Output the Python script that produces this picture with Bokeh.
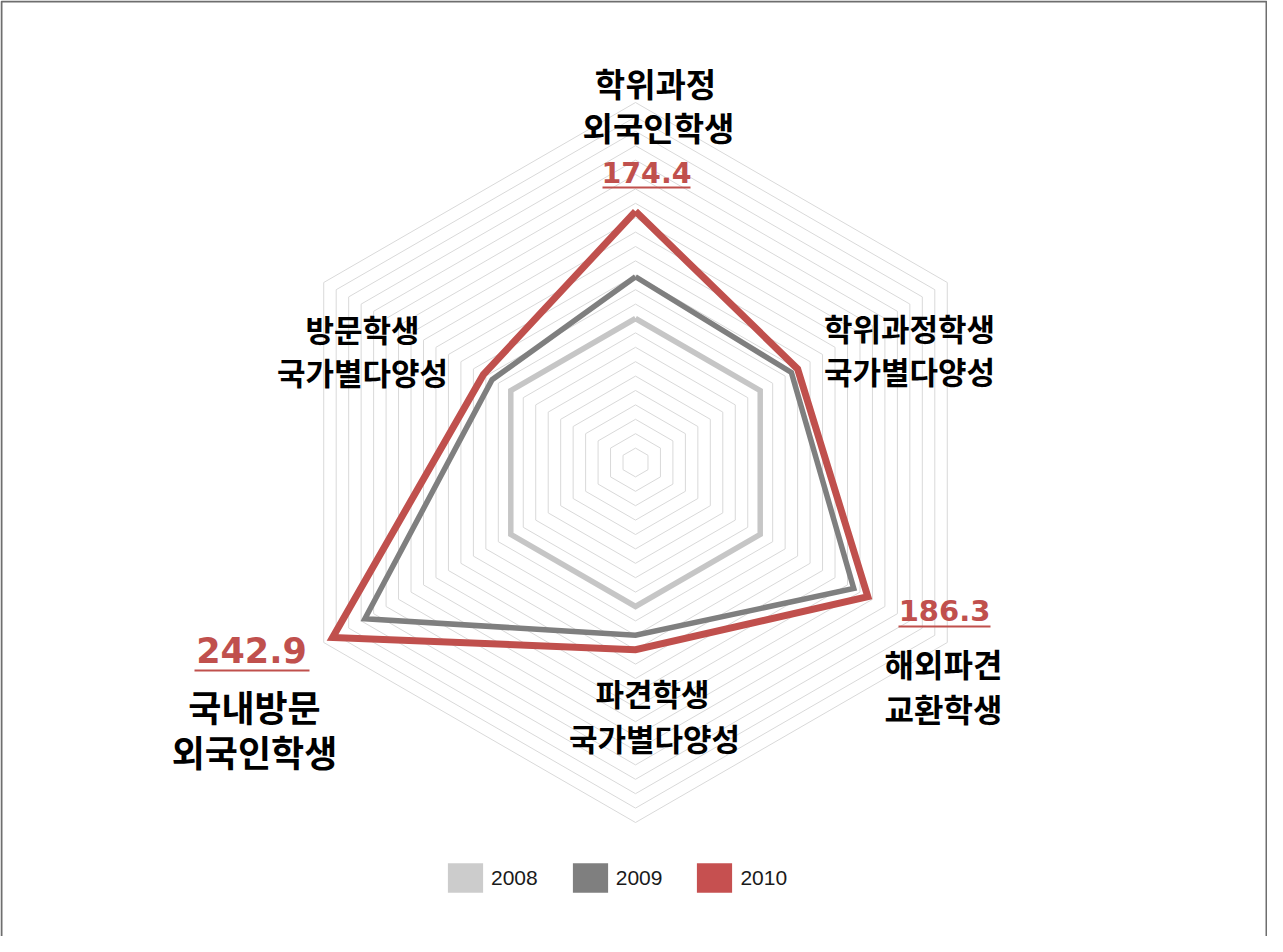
import numpy as np
from bokeh.plotting import figure
from bokeh.models import Range1d, Legend, LegendItem, BoxAnnotation
from bokeh.core.properties import value
from bokeh.embed import file_html
from bokeh.resources import INLINE

# ---------------- data ----------------
categories_line1 = ["학위과정", "학위과정학생", "해외파견", "파견학생", "국내방문", "방문학생"]
categories_line2 = ["외국인학생", "국가별다양성", "교환학생", "국가별다양성", "외국인학생", "국가별다양성"]
years = ["2008", "2009", "2010"]
v2008 = [100, 100, 100, 100, 100, 100]
v2009 = [129, 125, 175, 120, 217, 115]
v2010 = [174.4, 130, 186.3, 130, 242.9, 122]
highlight_idx = [0, 2, 4]          # categories whose 2010 value is printed
grid_levels = list(range(10, 251, 10))

# ---------------- layout / style ----------------
W, H = 1267, 936
CX, CY = 635, 462          # chart centre in canvas px
S = 1.44                   # px per unit
colors = {"2008": "#c6c6c6", "2009": "#7f7f7f", "2010": "#c0504d"}
swatch = {"2008": "#cccccc", "2009": "#7f7f7f", "2010": "#c65050"}
widths = {"2008": 5.5, "2009": 5.5, "2010": 7}
KFONT = value("Noto Sans CJK KR")
NFONT = value("DejaVu Sans")


def P(px, py):
    """page pixel -> data coordinates"""
    return ((px - 8 - CX) / S, (CY - (py - 8)) / S)


p = figure(width=W, height=H, output_backend="svg", toolbar_location=None,
           x_range=Range1d(-CX / S, (W - CX) / S),
           y_range=Range1d(-(H - CY) / S, CY / S),
           min_border=0, outline_line_color=None)
p.axis.visible = False
p.grid.visible = False
p.background_fill_color = "white"
p.border_fill_color = "white"

n = len(categories_line1)
ang = np.deg2rad(90 - 60 * np.arange(n))
cosa, sina = np.cos(ang), np.sin(ang)

# grid rings
gx, gy = [], []
for r in grid_levels:
    gx.append(list(np.append(r * cosa, r * cosa[0])))
    gy.append(list(np.append(r * sina, r * sina[0])))
p.multi_line(gx, gy, line_color="#d9d9d9", line_width=1)

# series
vals = {"2008": v2008, "2009": v2009, "2010": v2010}
for y in years:
    v = np.array(vals[y], dtype=float)
    xs = np.append(v * cosa, v[0] * cosa[0])
    ys = np.append(v * sina, v[0] * sina[0])
    p.line(xs, ys, line_color=colors[y], line_width=widths[y], line_join="miter")

# category labels (page px anchors for each line)
lab_pos = [
    ((663, 90), (666, 134), 33),
    ((917, 335), (917, 378), 31),
    ((951, 670), (951, 715), 32),
    ((660, 700), (662, 745), 31),
    ((262, 713), (262, 758), 36),
    ((370, 336), (370, 379), 31),
]
for i in range(n):
    (a, b, fs) = lab_pos[i]
    x1, y1 = P(*a)
    x2, y2 = P(*b)
    p.text([x1, x2], [y1, y2], text=[categories_line1[i], categories_line2[i]],
           text_font=KFONT, text_font_style="bold", text_font_size=f"{fs}px",
           text_align="center", text_baseline="middle", text_color="black")

# highlighted 2010 values with underline
val_pos = {0: ((654, 180), 195, 610, 698, 28.5),
           2: ((952, 618), 634, 906, 998, 29),
           4: ((259, 657), 678, 202, 317, 35)}
for i in highlight_idx:
    (c, uy, ux0, ux1, fs) = val_pos[i]
    x, yv = P(*c)
    p.text([x], [yv], text=[f"{v2010[i]:.1f}"], text_font=NFONT, text_font_style="bold",
           text_font_size=f"{fs}px", text_align="center", text_baseline="middle",
           text_color="#c0504d")
    xa, ya = P(ux0, uy)
    xb, _ = P(ux1, uy)
    p.segment([xa], [ya], [xb], [ya], line_color="#c0504d", line_width=2)

# frame border (left/top/right)
p.add_layout(BoxAnnotation(left=p.x_range.start + 1 / S, right=p.x_range.end - 1 / S,
                           top=p.y_range.end - 1 / S, bottom=p.y_range.start - 20,
                           fill_alpha=0, line_color="#6e6e6e", line_alpha=1.0, line_width=2))

# legend (zero-area proxy quads only carry the swatch style)
items = []
for y in years:
    r = p.quad(left=[0], right=[0], top=[0], bottom=[0], fill_color=swatch[y], line_color=None)
    items.append(LegendItem(label=y, renderers=[r]))
legend = Legend(items=items, orientation="horizontal", location=(443, H - 896),
                glyph_width=44, glyph_height=37, label_standoff=4, spacing=30,
                label_text_font="Liberation Sans", label_text_font_size="21px",
                label_text_color="#1a1a1a", label_height=37,
                padding=0, margin=0, border_line_color=None, background_fill_alpha=0)
p.add_layout(legend)

open("out.html", "w").write(file_html(p, INLINE))
